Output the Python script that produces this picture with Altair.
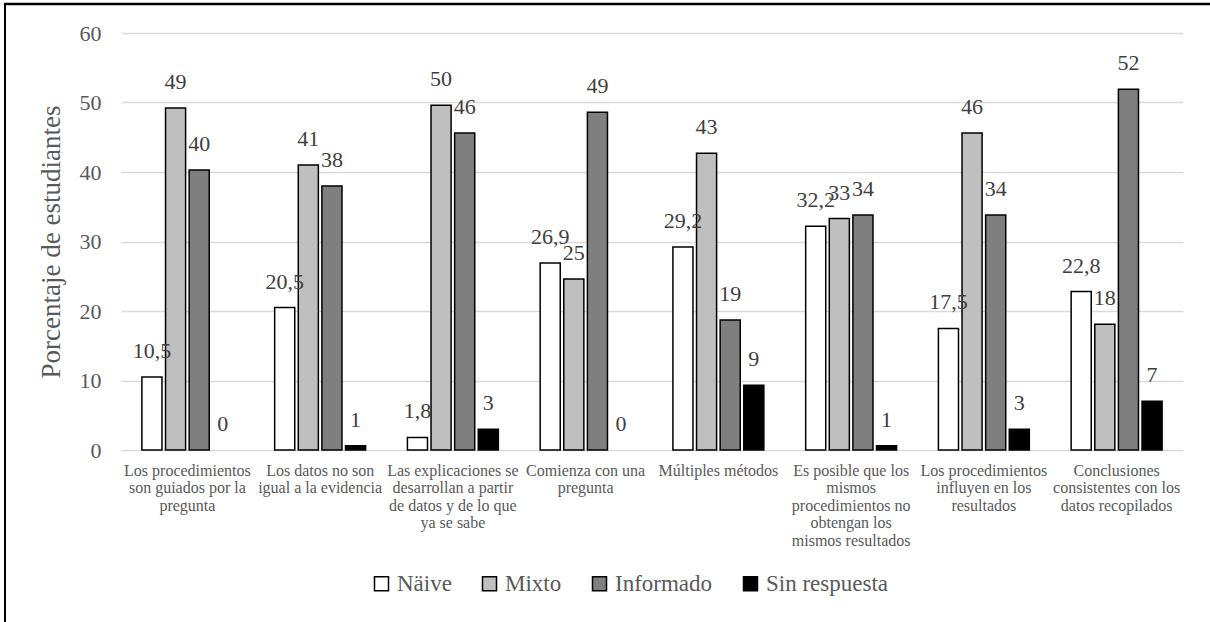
import altair as alt
import pandas as pd

categories = [
    ["Los procedimientos", "son guiados por la", "pregunta"],
    ["Los datos no son", "igual a la evidencia"],
    ["Las explicaciones se", "desarrollan a partir", "de datos y de lo que", "ya se sabe"],
    ["Comienza con una", "pregunta"],
    ["Múltiples métodos"],
    ["Es posible que los", "mismos", "procedimientos no", "obtengan los", "mismos resultados"],
    ["Los procedimientos", "influyen en los", "resultados"],
    ["Conclusiones", "consistentes con los", "datos recopilados"],
]
series = ["Näive", "Mixto", "Informado", "Sin respuesta"]
colors = ["#FFFFFF", "#BFBFBF", "#7F7F7F", "#000000"]

naive = [10.5, 20.5, 1.8, 26.9, 29.2, 32.2, 17.5, 22.8]
mixto = [49.2, 41.0, 49.6, 24.6, 42.7, 33.3, 45.6, 18.1]
informado = [40.3, 38.0, 45.6, 48.6, 18.7, 33.8, 33.8, 51.9]
sin_respuesta = [0.0, 0.6, 3.0, 0.0, 9.3, 0.6, 3.0, 7.0]

cat_keys = ["|".join(c) for c in categories]
rows = []
for s, vals in zip(series, [naive, mixto, informado, sin_respuesta]):
    for k, v in zip(cat_keys, vals):
        if s == "Näive":
            lab = f"{v:.1f}".replace(".", ",")
        else:
            lab = str(int(round(v)))
        rows.append({"cat": k, "serie": s, "value": v, "label": lab})
df = pd.DataFrame(rows)

FONT = "'Liberation Serif', 'Times New Roman', serif"
GRAY = "#595959"

base = alt.Chart(df).encode(
    x=alt.X(
        "cat:N",
        sort=cat_keys,
        scale=alt.Scale(paddingInner=0.315, paddingOuter=0.1575),
        axis=alt.Axis(
            title=None,
            labelAngle=0,
            labelExpr="split(datum.label, '|')",
            labelFont=FONT,
            labelFontSize=16,
            labelColor=GRAY,
            labelLineHeight=17.5,
            labelPadding=12,
            labelLimit=300,
            domain=False,
            ticks=False,
            labelBaseline="top",
        ),
    ),
    xOffset=alt.XOffset(
        "serie:N", sort=series, scale=alt.Scale(paddingInner=0.15, paddingOuter=0.0)
    ),
    y=alt.Y(
        "value:Q",
        scale=alt.Scale(domain=[0, 60]),
        axis=alt.Axis(
            title="Porcentaje de estudiantes",
            values=[0, 10, 20, 30, 40, 50, 60],
            labelFont=FONT,
            labelFontSize=22,
            labelColor=GRAY,
            labelPadding=20,
            titleFont=FONT,
            titleFontSize=27,
            titleFontWeight="normal",
            titleColor=GRAY,
            titlePadding=14,
            domain=False,
            ticks=False,
            gridColor="#D9D9D9",
            gridWidth=1.5,
        ),
    ),
)

bars = base.mark_bar(strokeWidth=1.5).encode(
    color=alt.Color(
        "serie:N",
        sort=series,
        scale=alt.Scale(domain=series, range=colors),
        legend=alt.Legend(
            title=None,
            orient="none",
            legendX=249,
            legendY=539,
            direction="horizontal",
            symbolType="square",
            symbolSize=196,
            symbolStrokeColor="black",
            symbolStrokeWidth=1.5,
            labelFont=FONT,
            labelFontSize=23,
            labelColor=GRAY,
            labelOffset=4,
            columnPadding=26,
        ),
    ),
    stroke=alt.condition("datum.value > 0", alt.value("black"), alt.value("transparent")),
)

text = base.mark_text(
    baseline="bottom", dy=-14, font=FONT, fontSize=22, color="#404040"
).encode(text="label:N")

edge = alt.Data(values=[{}])
top_line = alt.Chart(edge).mark_rule(color="black", strokeWidth=2.5).encode(
    x=alt.value(-117), x2=alt.value(1100), y=alt.value(-29)
)
left_line = alt.Chart(edge).mark_rule(color="black", strokeWidth=2).encode(
    x=alt.value(-116), y=alt.value(-30), y2=alt.value(600)
)

chart = (
    alt.layer(top_line, left_line, bars, text)
    .properties(
        width=1062,
        height=417,
        autosize="none",
        padding={"left": 121, "top": 33, "right": 27, "bottom": 172},
        background="white",
    )
    .configure_view(strokeWidth=0)
)

chart.save("out.html", embed_options={"renderer": "svg", "actions": False})
